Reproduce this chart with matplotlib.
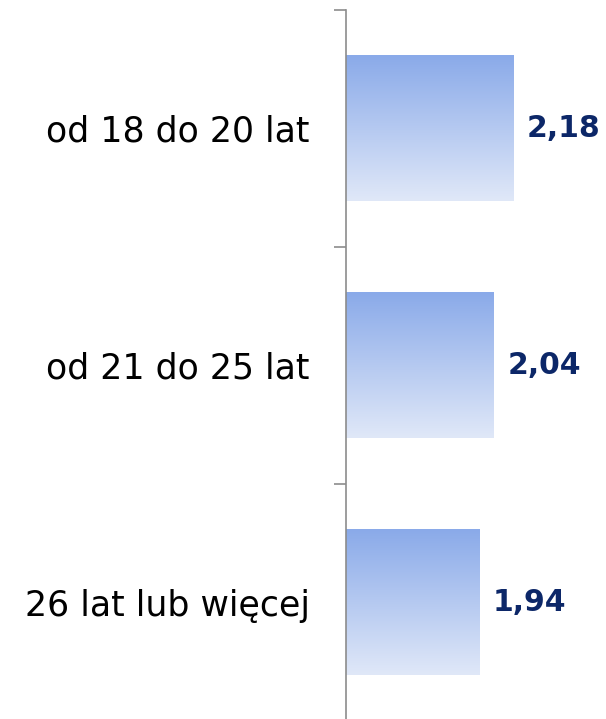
import numpy as np
import matplotlib.pyplot as plt
from matplotlib.colors import LinearSegmentedColormap

categories = ['od 18 do 20 lat', 'od 21 do 25 lat', '26 lat lub więcej']
values = [2.18, 2.04, 1.94]
value_labels = ['2,18', '2,04', '1,94']

plt.rcParams['font.family'] = ['DejaVu Sans']

fig = plt.figure(figsize=(6.06, 7.19), dpi=100)
ax = fig.add_axes([346 / 606, -2 / 719, 260 / 606, 711.5 / 719])

ypos = np.arange(len(categories))
bars = ax.barh(ypos, np.array(values) - 1, left=1, height=0.614, color='none')

# vertical gradient inside each bar, darker at the top
cmap = LinearSegmentedColormap.from_list('grad', ['#8aaae9', '#e0e8f8'])
grad = np.linspace(0, 1, 256).reshape(-1, 1)
for b in bars:
    x0, y0 = b.get_x(), b.get_y()
    w, h = b.get_width(), b.get_height()
    ax.imshow(grad, cmap=cmap, aspect='auto', origin='upper',
              extent=(x0, x0 + w, y0 + h, y0), zorder=1)

for b, lab in zip(bars, value_labels):
    ax.annotate(lab, (b.get_x() + b.get_width(), b.get_y() + b.get_height() / 2),
                xytext=(10, 0), textcoords='offset points', va='center', ha='left',
                fontsize=21.5, fontweight='bold', color='#0c2768')

ax.set_xlim(1, 2.835)
ax.set_ylim(2.5, -0.5)

ax.set_yticks([-0.5, 0.5, 1.5, 2.5])
ax.set_yticklabels([])
ax.set_yticks(ypos, minor=True)
ax.set_yticklabels(categories, minor=True, fontsize=25)
ax.tick_params(axis='y', which='major', length=9, width=1.2, color='#8c8c8c')
ax.tick_params(axis='y', which='minor', length=0, pad=26)
ax.set_xticks([])

for s in ['top', 'right', 'bottom']:
    ax.spines[s].set_visible(False)
ax.spines['left'].set_color('#8c8c8c')
ax.spines['left'].set_linewidth(1.2)

fig.savefig('out.png', dpi=100)
